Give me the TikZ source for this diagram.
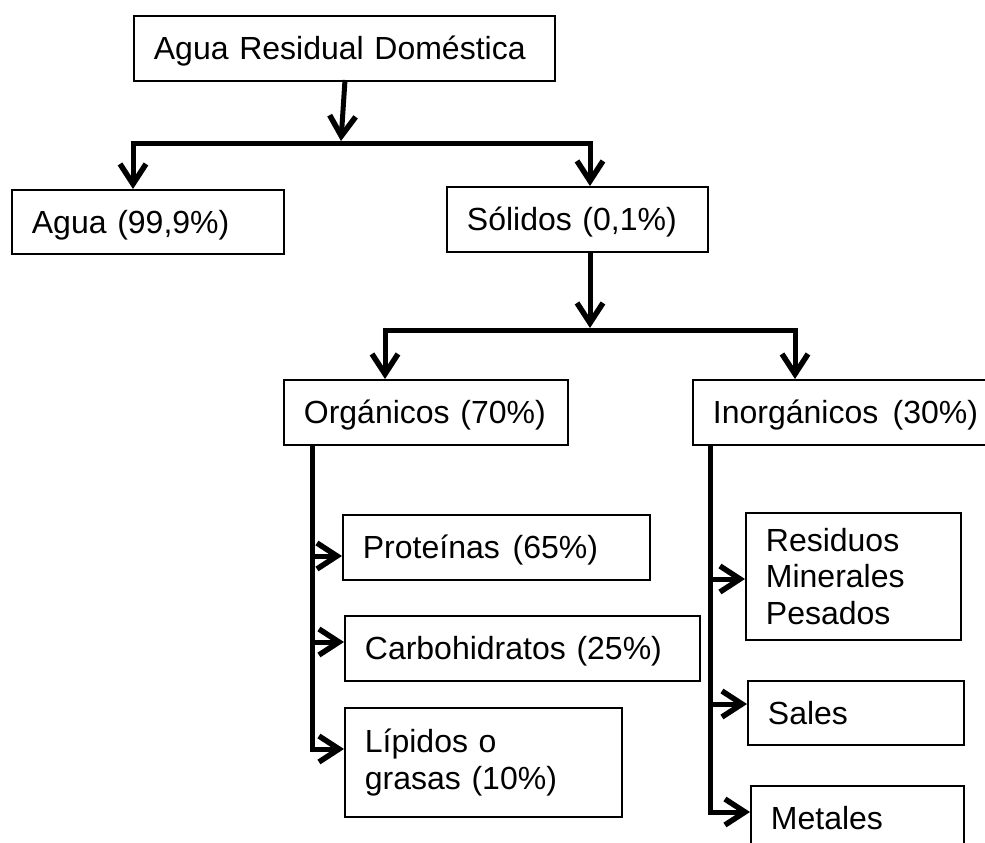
\documentclass[tikz,border=0pt]{standalone}
\usepackage{fontspec}
\setmainfont{Liberation Sans}
\usetikzlibrary{arrows.meta}
\begin{document}
\begin{tikzpicture}[x=1pt,y=-1pt,
  box/.style={draw, line width=1.8pt, inner xsep=20pt, inner ysep=0pt, align=left,
    anchor=north west, font=\fontsize{32}{36.8}\selectfont},
  one/.style={text height=23pt, text depth=0pt},
  thk/.style={line width=5pt, line cap=rect},
  arr/.style={line width=5pt, -{Straight Barb[length=20pt,width=26pt,line width=5.5pt]}}]
\useasboundingbox (0,0) rectangle (985,843);
\clip (0,0) rectangle (985,843);
% boxes
\node[box,one,text width=381pt,minimum height=65pt] (top) at (133,15) {Agua Residual Doméstica};
\node[box,one,text width=232pt,minimum height=64pt] (agua) at (11,189) {Agua (99,9\%)};
\node[box,one,text width=221pt,minimum height=65pt] (sol) at (446,186) {Sólidos (0,1\%)};
\node[box,one,text width=244pt,minimum height=65pt] (org) at (283,379) {Orgánicos (70\%)};
\node[box,one,text width=262pt,minimum height=65pt] (inorg) at (692,379) {\mbox{Inorgánicos\hspace{0.45em}(30\%)}};
\node[box,one,text width=267pt,minimum height=65pt] (prot) at (342,514) {Proteínas\hspace{0.4em}(65\%)};
\node[box,one,text width=315pt,minimum height=65pt] (carb) at (344,615) {Carbohidratos (25\%)};
\node[box,text width=237pt,minimum height=109pt] (lip) at (344,707) {Lípidos o\\grasas (10\%)};
\node[box,text width=175pt,minimum height=127pt] (res) at (745,512) {Residuos\\Minerales\\Pesados};
\node[box,one,text width=176pt,minimum height=64pt] (sal) at (747,680) {Sales};
\node[box,one,text width=173pt,minimum height=65pt] (met) at (750,785) {Metales};
% junction coordinates
\coordinate (t0) at (345,80);
\coordinate (t1) at (341,141);
\coordinate (j1L) at (133,143);
\coordinate (j1R) at (590,143);
\coordinate (s1) at (590,328);
\coordinate (j2L) at (385,330);
\coordinate (j2R) at (795,330);
\coordinate (ol) at (312,444);
\coordinate (ir) at (710,444);
\coordinate (pa) at (342,556);
\coordinate (ca) at (344,642);
\coordinate (la) at (344,749);
\coordinate (ra) at (745,579);
\coordinate (sa) at (747,704);
\coordinate (ma) at (750,812);
% connectors
\draw[arr] (t0) -- (t1);
\draw[thk] (j1L) -- (j1R);
\draw[arr] (j1L) -- (j1L |- agua.north);
\draw[arr] (j1R) -- (j1R |- sol.north);
\draw[arr] (j1R |- sol.south) -- (s1);
\draw[thk] (j2L) -- (j2R);
\draw[arr] (j2L) -- (j2L |- org.north);
\draw[arr] (j2R) -- (j2R |- inorg.north);
\draw[arr] (ol) |- (la);
\draw[arr] (ol |- pa) -- (pa);
\draw[arr] (ol |- ca) -- (ca);
\draw[arr] (ir) |- (ma);
\draw[arr] (ir |- ra) -- (ra);
\draw[arr] (ir |- sa) -- (sa);
\end{tikzpicture}
\end{document}
